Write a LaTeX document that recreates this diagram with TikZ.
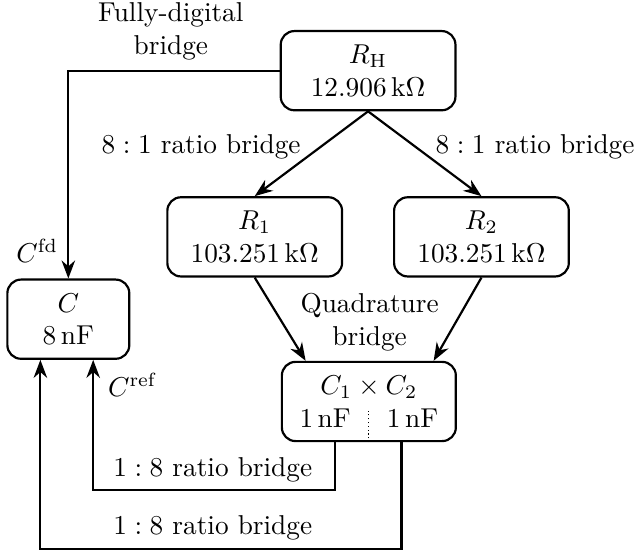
\documentclass[tikz,border=0pt]{standalone}
\usetikzlibrary{arrows.meta}

\begin{document}
\begin{tikzpicture}[thick, >=Stealth,
    box/.style={draw, rounded corners=5pt, align=center, minimum height=1.02cm, minimum width=2.25cm}]
            \useasboundingbox (0,0) rectangle (8.19,-7.09);
            \node[box] (RH) at (4.74,-0.91) {$R_{\mathrm{H}}$\\ $12.906\,\mathrm{k\Omega}$};
            \node[box] (R1) at (3.28,-3.05) {$R_1$\\ $103.251\,\mathrm{k\Omega}$};
            \node[box] (R2) at (6.20,-3.05) {$R_2$\\ $103.251\,\mathrm{k\Omega}$};
            \node[box, minimum width=1.57cm] (C) at (0.88,-4.11) {$C$\\ $8\,\mathrm{nF}$};
            \node[box, minimum width=2.24cm] (C12) at (4.75,-5.17) {$C_1\times C_2$\\ $1\,\mathrm{nF}$\quad\ $1\,\mathrm{nF}$};
            \draw[densely dotted, thin] (C12.south) -- ++(0,0.44);
            \draw[->] (RH.west) -| (C.north);
            \draw[->] (RH.south) -- (R1.north);
            \draw[->] (RH.south) -- (R2.north);
            \draw[->] (R1.south) -- ([xshift=0.32cm]C12.north west);
            \draw[->] (R2.south) -- ([xshift=-0.3cm]C12.north east);
            \draw[->] ([xshift=-0.44cm]C12.south) -- ++(0,-0.62) -| ([xshift=0.32cm]C.south);
            \draw[->] ([xshift=0.42cm]C12.south) -- ++(0,-1.38) -| ([xshift=-0.36cm]C.south);
            \node[align=center] (fdb) at (2.20,-0.40) {Fully-digital\\ bridge};
            \node (r81a) at (2.59,-1.89) {$8:1$ ratio bridge};
            \node (r81b) at (6.89,-1.89) {$8:1$ ratio bridge};
            \node (cfd) at (0.48,-3.23) {$C^{\mathrm{fd}}$};
            \node[align=center] (qb) at (4.76,-4.15) {Quadrature\\ bridge};
            \node (cref) at (1.71,-4.96) {$C^{\mathrm{ref}}$};
            \node (r18a) at (2.74,-6.05) {$1:8$ ratio bridge};
            \node (r18b) at (2.74,-6.80) {$1:8$ ratio bridge};
        \end{tikzpicture}
\end{document}
